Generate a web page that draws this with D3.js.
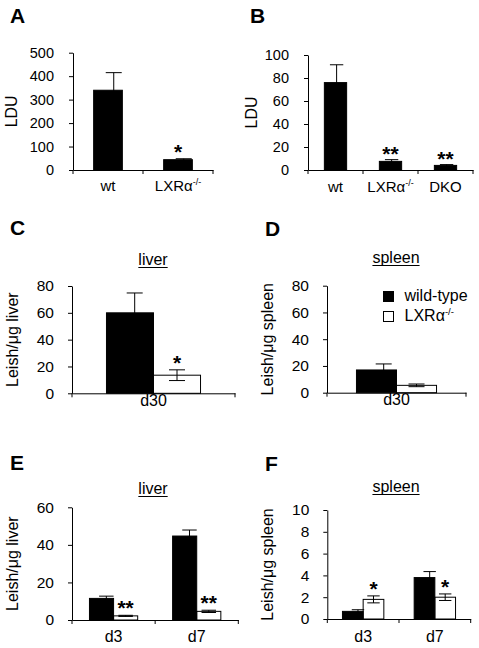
<!DOCTYPE html>
<html><head><meta charset="utf-8">
<script src="https://cdn.jsdelivr.net/npm/d3@7"></script>
<style>
body{margin:0;background:#fff;}
svg{display:block;}
svg text{font-family:"Liberation Sans",Arial,Helvetica,sans-serif;}
</style></head>
<body><svg id="c" width="479" height="648"></svg>
<script>
// ---------- DATA ----------
const seriesNames = ["wild-type", "LXRα-/-"];

const catsA = ["wt", "LXRα-/-"];
const valsA = [340, 44];
const errA = [75, 4];
const sigA = ["", "*"];
const ticksA = [0, 100, 200, 300, 400, 500];

const catsB = ["wt", "LXRα-/-", "DKO"];
const valsB = [76, 7.5, 4];
const errB = [15.5, 1.5, 0.7];
const sigB = ["", "**", "**"];
const ticksB = [0, 20, 40, 60, 80, 100];

const catsC = ["d30"];
const wtC = [60], wtErrC = [14.8];
const koC = [13.5], koErrC = [4];
const sigC = ["*"];
const ticksC = [0, 20, 40, 60, 80];

const catsD = ["d30"];
const wtD = [17], wtErrD = [4.5];
const koD = [5.5], koErrD = [1];
const sigD = [""];
const ticksD = [0, 20, 40, 60, 80];

const catsE = ["d3", "d7"];
const wtE = [11.5, 44.7], wtErrE = [1.2, 3.2];
const koE = [2.2, 4.6], koErrE = [0.3, 0.6];
const sigE = ["**", "**"];
const ticksE = [0, 20, 40, 60];

const catsF = ["d3", "d7"];
const wtF = [0.7, 3.8], wtErrF = [0.15, 0.55];
const koF = [1.8, 2.0], koErrF = [0.32, 0.3];
const sigF = ["*", "*"];
const ticksF = [0, 2, 4, 6, 8, 10];

// ---------- DRAW ----------
const FF = '"Liberation Sans", Arial, Helvetica, sans-serif';
const svg = d3.select("#c").attr("font-family", FF);
const FONT_LAB = 16;

function addLabel(sel, label, size) {
  sel.text(null);
  if (label.endsWith("-/-")) {
    sel.append("tspan").text(label.slice(0, -3));
    sel.append("tspan").attr("font-size", size * 0.6).attr("dy", -size * 0.4).text("-/-");
  } else sel.text(label);
}

function panel(cfg) {
  const g = svg.append("g").attr("font-family", FF);
  const y = d3.scaleLinear().domain([0, cfg.ticks[cfg.ticks.length - 1]]).range([cfg.yb, cfg.yt]);
  const x = d3.scaleBand().domain(cfg.cats).range([cfg.x0, cfg.x1]).paddingInner(0).paddingOuter(0);
  const bw = x.bandwidth();

  g.append("text").attr("x", cfg.letter[0]).attr("y", cfg.letter[1])
    .attr("font-size", 21).attr("font-weight", "bold").text(cfg.name);

  if (cfg.title) {
    const t = g.append("text").attr("x", cfg.title[0]).attr("y", cfg.title[1])
      .attr("text-anchor", "middle").attr("font-size", FONT_LAB).text(cfg.title[2]);
    const w = t.node().getComputedTextLength();
    g.append("line").attr("x1", cfg.title[0] - w / 2).attr("x2", cfg.title[0] + w / 2)
      .attr("y1", cfg.title[1] + 2.5).attr("y2", cfg.title[1] + 2.5)
      .attr("stroke", "#000").attr("stroke-width", 1);
  }

  g.append("text").attr("transform", `translate(${cfg.ylabX},${(cfg.yb + cfg.yt) / 2}) rotate(-90)`)
    .attr("text-anchor", "middle").attr("font-size", FONT_LAB).text(cfg.ylab);

  const groups = cfg.series;
  const nS = groups.length;
  const barW = bw * cfg.ratio / nS;
  const bars = [];
  cfg.cats.forEach((c, i) => {
    const cx = x(c) + bw / 2;
    const start = cx - barW * nS / 2;
    groups.forEach((s, j) => {
      bars.push({ x: start + j * barW, w: barW, v: s.vals[i], e: s.errs[i], fill: s.fill, shift: s.shift || 0, i, j });
    });
  });

  const eg = g.append("g").attr("stroke", "#000").attr("stroke-width", 1);
  bars.forEach(b => {
    const ex = b.x + b.w / 2 + b.shift * b.w;
    const cap = Math.min(8, b.w * 0.3);
    const hi = y(b.v + b.e), lo = y(Math.max(0, b.v - b.e));
    b.errTop = hi;
    eg.append("line").attr("x1", ex).attr("x2", ex).attr("y1", hi).attr("y2", lo);
    eg.append("line").attr("x1", ex - cap).attr("x2", ex + cap).attr("y1", hi).attr("y2", hi);
    if (b.fill !== "#000") eg.append("line").attr("x1", ex - cap).attr("x2", ex + cap).attr("y1", lo).attr("y2", lo);
  });
  g.selectAll("rect.bar").data(bars).enter().append("rect").attr("class", "bar")
    .attr("x", d => d.x).attr("width", d => d.w)
    .attr("y", d => y(d.v)).attr("height", d => cfg.yb - y(d.v))
    .attr("fill", d => d.fill === "#000" ? "#000" : "none")
    .attr("stroke", "#000").attr("stroke-width", 1);

  cfg.cats.forEach((c, i) => {
    const s = cfg.sig[i];
    if (!s) return;
    const b = bars.find(d => d.i === i && d.j === nS - 1);
    const cy = b.errTop - cfg.starGap;
    g.append("text").attr("x", b.x + b.w / 2).attr("y", cy + 12)
      .attr("text-anchor", "middle").attr("font-size", 21).attr("font-weight", "bold").text(s);
  });

  const ya = g.append("g").attr("transform", `translate(${cfg.x0},0)`)
    .call(d3.axisLeft(y).tickValues(cfg.ticks).tickSizeInner(4).tickSizeOuter(0).tickPadding(cfg.tickPad).tickFormat(d3.format("d")))
    .attr("font-family", FF).attr("font-size", cfg.tickFont);
  ya.selectAll("text").attr("fill", "#000");
  ya.selectAll("line,path").attr("stroke", "#000");

  const xa = g.append("g").attr("transform", `translate(0,${cfg.yb})`)
    .call(d3.axisBottom(x).tickSize(0).tickPadding(cfg.catDy).tickSizeOuter(0))
    .attr("font-family", FF).attr("font-size", cfg.catFont);
  xa.selectAll("path").attr("stroke", "#000");
  xa.selectAll("text").attr("fill", "#000").attr("dy", "0em")
    .each(function (d) { addLabel(d3.select(this), d, cfg.catFont); });
  const edges = cfg.cats.map(c => x(c)).concat([cfg.x1]);
  xa.selectAll("line.edge").data(edges).enter().append("line").attr("class", "edge")
    .attr("x1", d => d).attr("x2", d => d).attr("y1", 0).attr("y2", 4).attr("stroke", "#000");

  if (cfg.legend) {
    const L = cfg.legend;
    seriesNames.forEach((n, k) => {
      const yy = L.y + k * L.dy;
      g.append("rect").attr("x", L.x).attr("y", yy).attr("width", 10).attr("height", 10)
        .attr("fill", k === 0 ? "#000" : "#fff").attr("stroke", "#000").attr("stroke-width", 1);
      const t = g.append("text").attr("x", L.x + 21).attr("y", yy + 9.5).attr("font-size", FONT_LAB);
      addLabel(t, n, FONT_LAB);
    });
  }
}

panel({ name: "A", letter: [10, 23], cats: catsA, ticks: ticksA, x0: 73, x1: 213, yb: 170, yt: 52.7, ratio: 0.41,
  series: [{ vals: valsA, errs: errA, fill: "#000", shift: 0.2 }], sig: sigA, starGap: 12,
  ylab: "LDU", ylabX: 17, catDy: 20.5, tickFont: 14.5, catFont: 15, tickPad: 15 });
panel({ name: "B", letter: [250, 23], cats: catsB, ticks: ticksB, x0: 308, x1: 473, yb: 170, yt: 55, ratio: 0.405,
  series: [{ vals: valsB, errs: errB, fill: "#000", shift: 0.05 }], sig: sigB, starGap: 11,
  ylab: "LDU", ylabX: 257, catDy: 22, tickFont: 14.5, catFont: 15, tickPad: 15 });
panel({ name: "C", letter: [10, 235], title: [153, 265, "liver"], cats: catsC, ticks: ticksC, x0: 72, x1: 235, yb: 393.3, yt: 286, ratio: 0.577,
  series: [{ vals: wtC, errs: wtErrC, fill: "#000", shift: 0.1 }, { vals: koC, errs: koErrC, fill: "#fff" }], sig: sigC, starGap: 12,
  ylab: "Leish/μg liver", ylabX: 18, catDy: 13, tickFont: 15.5, catFont: 16, tickPad: 14 });
panel({ name: "D", letter: [265, 236], title: [396, 263, "spleen"], cats: catsD, ticks: ticksD, x0: 327, x1: 466, yb: 392.7, yt: 285.7, ratio: 0.576,
  series: [{ vals: wtD, errs: wtErrD, fill: "#000", shift: 0.18 }, { vals: koD, errs: koErrD, fill: "#fff" }], sig: sigD, starGap: 12,
  ylab: "Leish/μg spleen", ylabX: 273, catDy: 12.5, tickFont: 15.5, catFont: 16, tickPad: 14,
  legend: { x: 383.5, y: 291.5, dy: 20 } });
panel({ name: "E", letter: [10, 470], title: [153, 494, "liver"], cats: catsE, ticks: ticksE, x0: 72, x1: 238.3, yb: 620, yt: 507.3, ratio: 0.58,
  series: [{ vals: wtE, errs: wtErrE, fill: "#000", shift: 0.2 }, { vals: koE, errs: koErrE, fill: "#fff" }], sig: sigE, starGap: 12,
  ylab: "Leish/μg liver", ylabX: 18, catDy: 22, tickFont: 15.5, catFont: 16, tickPad: 14 });
panel({ name: "F", letter: [265, 471], title: [396, 492, "spleen"], cats: catsF, ticks: ticksF, x0: 327.3, x1: 470.7, yb: 619, yt: 510, ratio: 0.577,
  series: [{ vals: wtF, errs: wtErrF, fill: "#000", shift: 0.25 }, { vals: koF, errs: koErrF, fill: "#fff" }], sig: sigF, starGap: 12,
  ylab: "Leish/μg spleen", ylabX: 273, catDy: 22.5, tickFont: 15.5, catFont: 16, tickPad: 14 });
</script></body></html>
